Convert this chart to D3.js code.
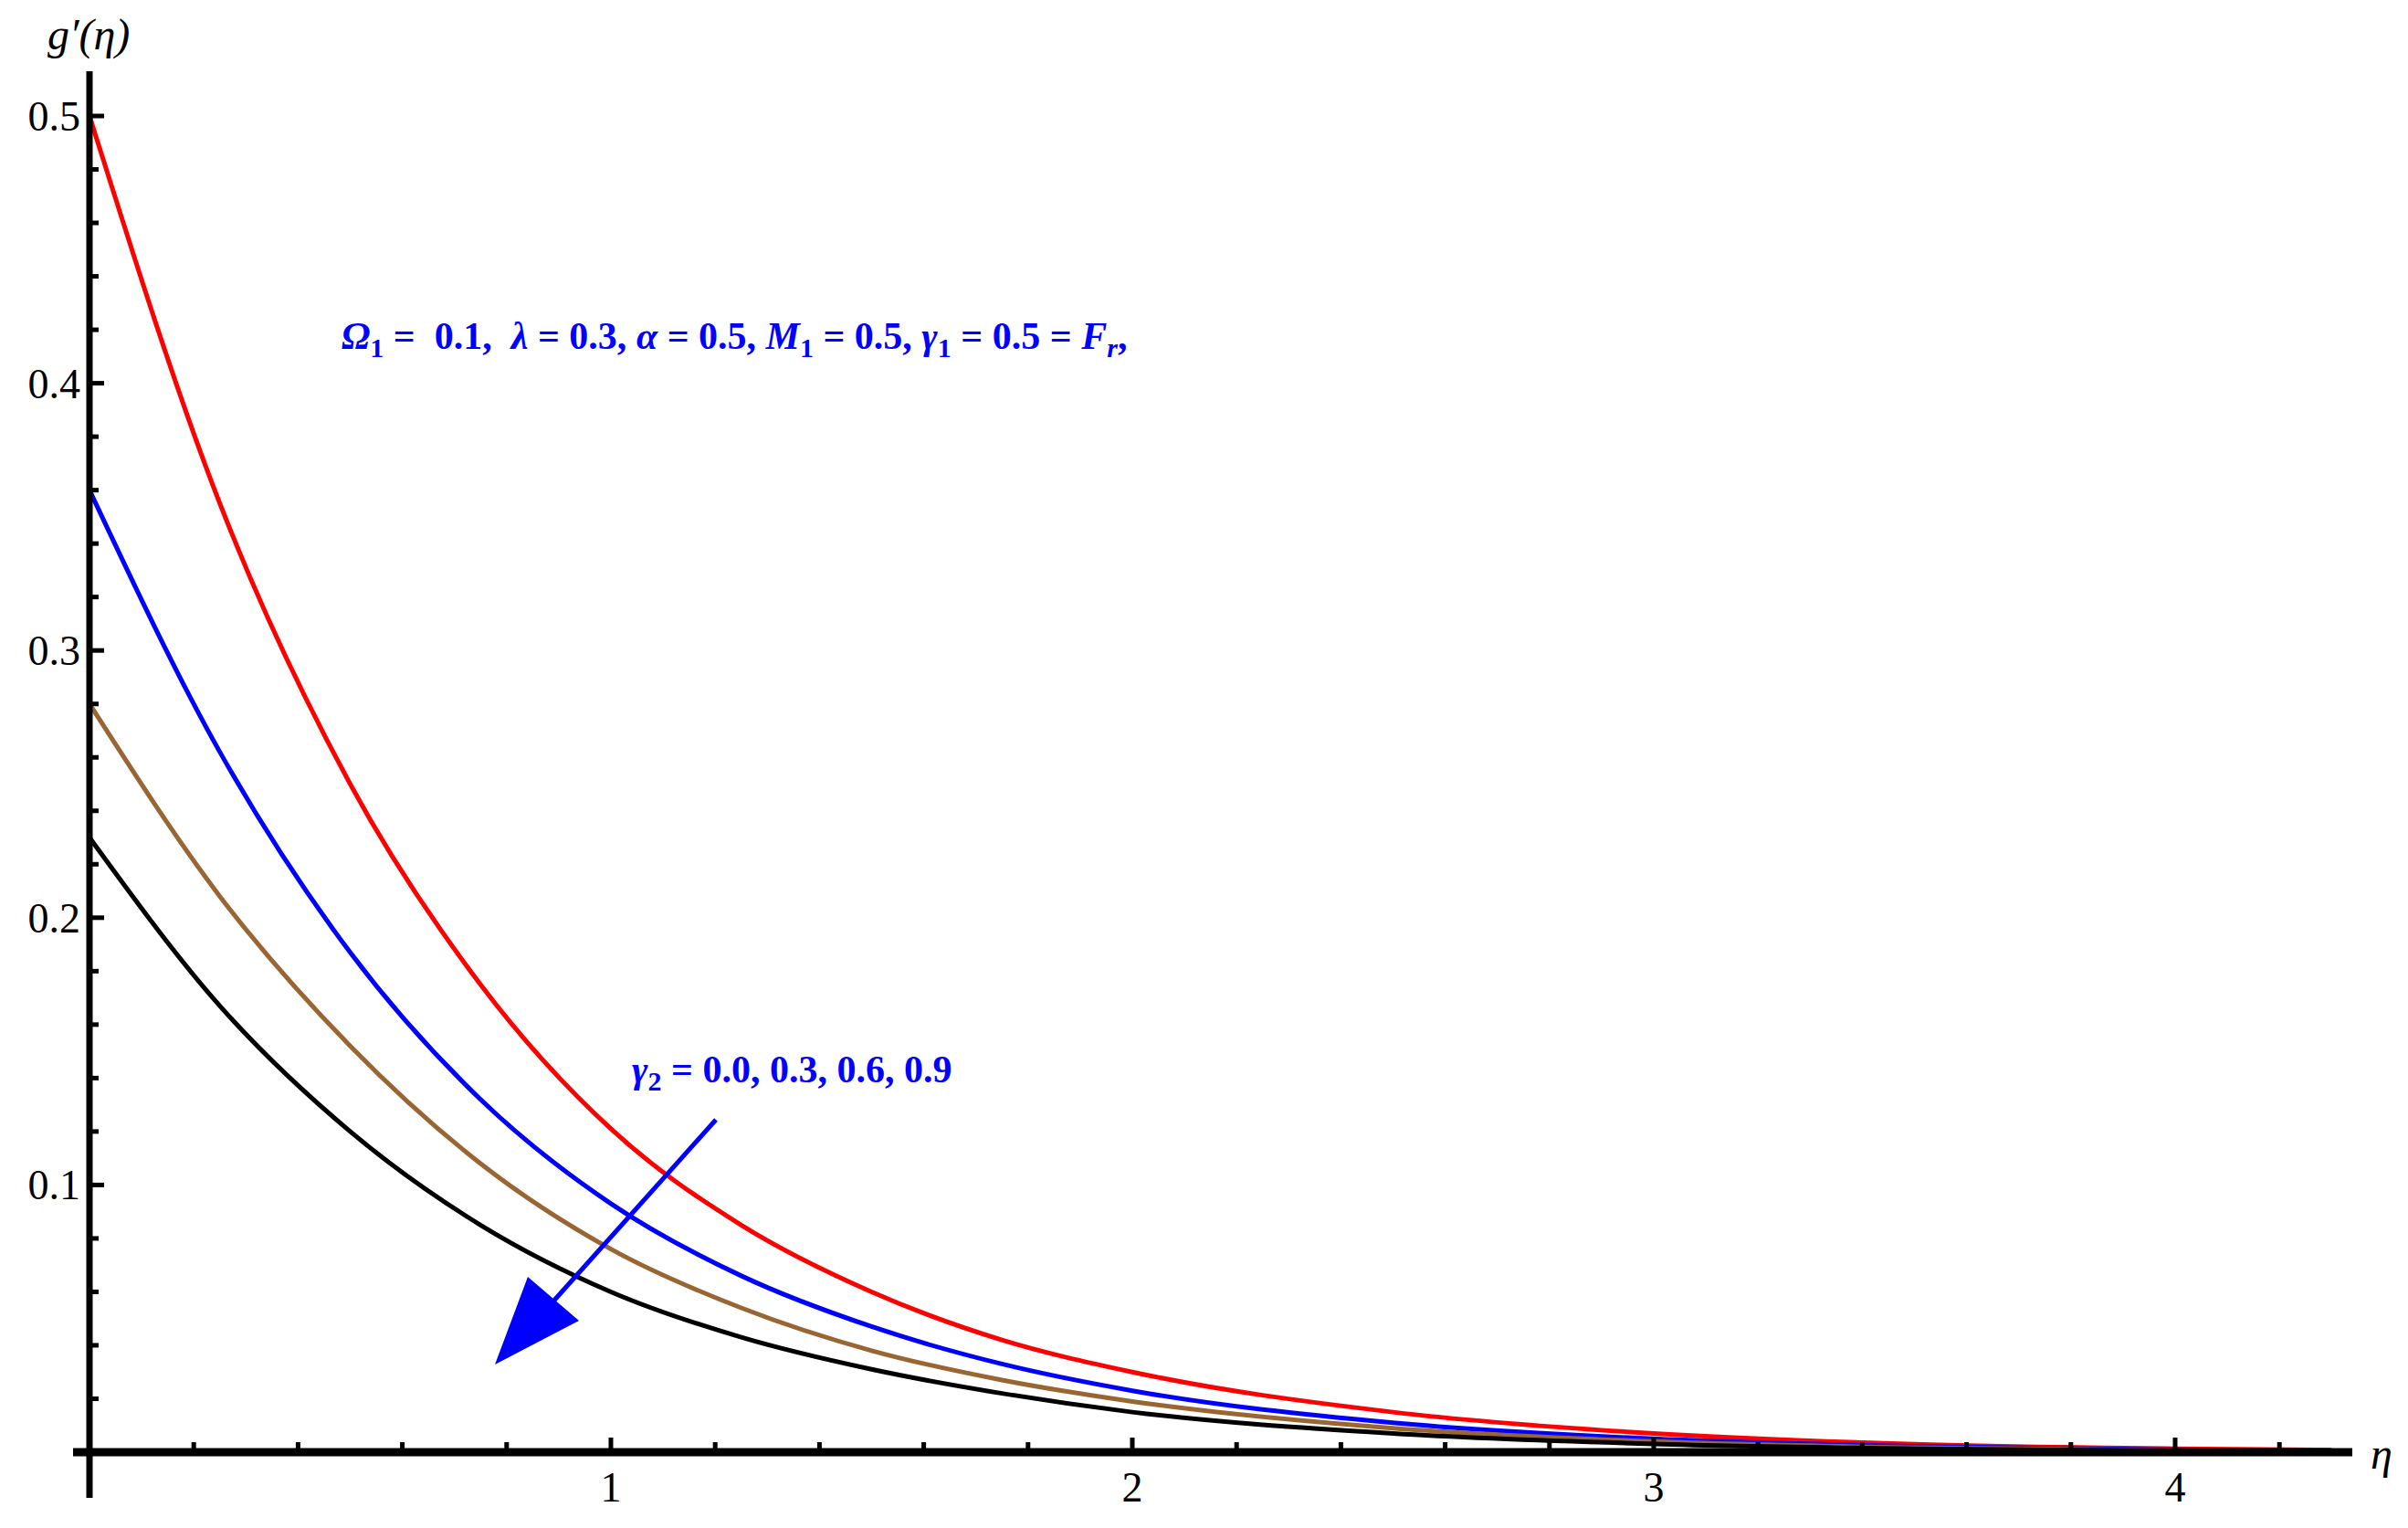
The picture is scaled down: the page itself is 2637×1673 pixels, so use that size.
<!doctype html>
<html><head><meta charset="UTF-8"><script src="https://d3js.org/d3.v7.min.js"></script>
<style>html,body{margin:0;background:#fff;overflow:hidden}text{font-family:"Liberation Serif","DejaVu Serif",serif}</style>
</head><body><svg id="c" width="2637" height="1673"></svg>
<script>
const etas = [0, 0.25, 0.5, 0.75, 1, 1.25, 1.5, 1.75, 2, 2.5, 3, 3.5, 4, 4.3];
const gRed   = [0.5, 0.355, 0.25, 0.175, 0.121, 0.085, 0.06, 0.042, 0.03, 0.015, 0.007, 0.003, 0.0013, 0.0008];
const gBlue  = [0.36, 0.262, 0.187, 0.132, 0.093, 0.066, 0.047, 0.033, 0.023, 0.011, 0.005, 0.0022, 0.0009, 0.0005];
const gBrown = [0.28, 0.208, 0.152, 0.108, 0.076, 0.054, 0.038, 0.027, 0.019, 0.009, 0.004, 0.0017, 0.0007, 0.0004];
const gBlack = [0.23, 0.167, 0.12, 0.085, 0.06, 0.043, 0.031, 0.022, 0.015, 0.007, 0.0031, 0.0013, 0.0005, 0.0003];
const series = [[gRed, "#ff0000"], [gBlue, "#0000ff"], [gBrown, "#996633"], [gBlack, "#000000"]];
const xTicks = [1, 2, 3, 4];
const yTicks = [0.1, 0.2, 0.3, 0.4, 0.5];

const svg = d3.select("#c");
const x = d3.scaleLinear().domain([0, 1]).range([98, 669]);
const y = d3.scaleLinear().domain([0, 0.5]).range([1590, 127]);

const line = d3.line().x((d, i) => x(etas[i])).y(d => y(d)).curve(d3.curveMonotoneX);
series.forEach(([v, c]) => svg.append("path").attr("d", line(v)).attr("fill", "none").attr("stroke", c).attr("stroke-width", 5));

// axes
svg.append("line").attr("x1", 80).attr("x2", 2576).attr("y1", 1590).attr("y2", 1590).attr("stroke", "#000").attr("stroke-width", 9);
svg.append("line").attr("x1", 98).attr("x2", 98).attr("y1", 78).attr("y2", 1640).attr("stroke", "#000").attr("stroke-width", 7);
d3.range(0.2, 4.3, 0.2).forEach(t => {
  const major = Math.abs(t - Math.round(t)) < 1e-6;
  svg.append("line").attr("x1", x(t)).attr("x2", x(t)).attr("y1", 1590).attr("y2", 1590 - (major ? 16 : 11)).attr("stroke", "#000").attr("stroke-width", 5);
});
d3.range(0.02, 0.51, 0.02).forEach(t => {
  const major = Math.abs(t * 10 - Math.round(t * 10)) < 1e-6;
  svg.append("line").attr("x1", 98).attr("x2", 98 + (major ? 16 : 10)).attr("y1", y(t)).attr("y2", y(t)).attr("stroke", "#000").attr("stroke-width", 5);
});
xTicks.forEach(t => svg.append("text").attr("x", x(t)).attr("y", 1644).attr("text-anchor", "middle").attr("font-size", 46).text(t));
yTicks.forEach(t => svg.append("text").attr("x", 88).attr("y", y(t) + 16).attr("text-anchor", "end").attr("font-size", 46).text(t.toFixed(1)));
svg.append("text").attr("x", 52).attr("y", 54).attr("font-size", 48).attr("font-style", "italic").text("g′(η)");
svg.append("text").attr("x", 2596).attr("y", 1608).attr("font-size", 48).attr("font-style", "italic").text("η");

// annotations
const ann = svg.append("text").attr("x", 374).attr("y", 382).attr("font-size", 42).attr("font-weight", "bold").attr("fill", "#0000ff").attr("xml:space", "preserve");
ann.append("tspan").attr("font-style", "italic").text("Ω");
ann.append("tspan").attr("font-size", 30).attr("dy", 9).text("1");
ann.append("tspan").attr("dy", -9).text(" =  0.1,  ");
ann.append("tspan").attr("font-style", "italic").text("λ");
ann.append("tspan").text(" = 0.3, ");
ann.append("tspan").attr("font-style", "italic").text("α");
ann.append("tspan").text(" = 0.5, ");
ann.append("tspan").attr("font-style", "italic").text("M");
ann.append("tspan").attr("font-size", 30).attr("dy", 9).text("1");
ann.append("tspan").attr("dy", -9).text(" = 0.5, ");
ann.append("tspan").attr("font-style", "italic").text("γ");
ann.append("tspan").attr("font-size", 30).attr("dy", 9).text("1");
ann.append("tspan").attr("dy", -9).text(" = 0.5 = ");
ann.append("tspan").attr("font-style", "italic").text("F");
ann.append("tspan").attr("font-style", "italic").attr("font-size", 30).attr("dy", 9).text("r");
ann.append("tspan").attr("dy", -9).text(",");

const g2 = svg.append("text").attr("x", 692).attr("y", 1185).attr("font-size", 42).attr("font-weight", "bold").attr("fill", "#0000ff");
g2.append("tspan").attr("font-style", "italic").text("γ");
g2.append("tspan").attr("font-size", 30).attr("dy", 9).text("2");
g2.append("tspan").attr("dy", -9).text(" = 0.0, 0.3, 0.6, 0.9");

// arrow
svg.append("line").attr("x1", 784).attr("y1", 1226).attr("x2", 595).attr("y2", 1437).attr("stroke", "#0000ff").attr("stroke-width", 5);
svg.append("path").attr("d", "M542,1494 L578,1398 L634,1446 Z").attr("fill", "#0000ff");
</script></body></html>
